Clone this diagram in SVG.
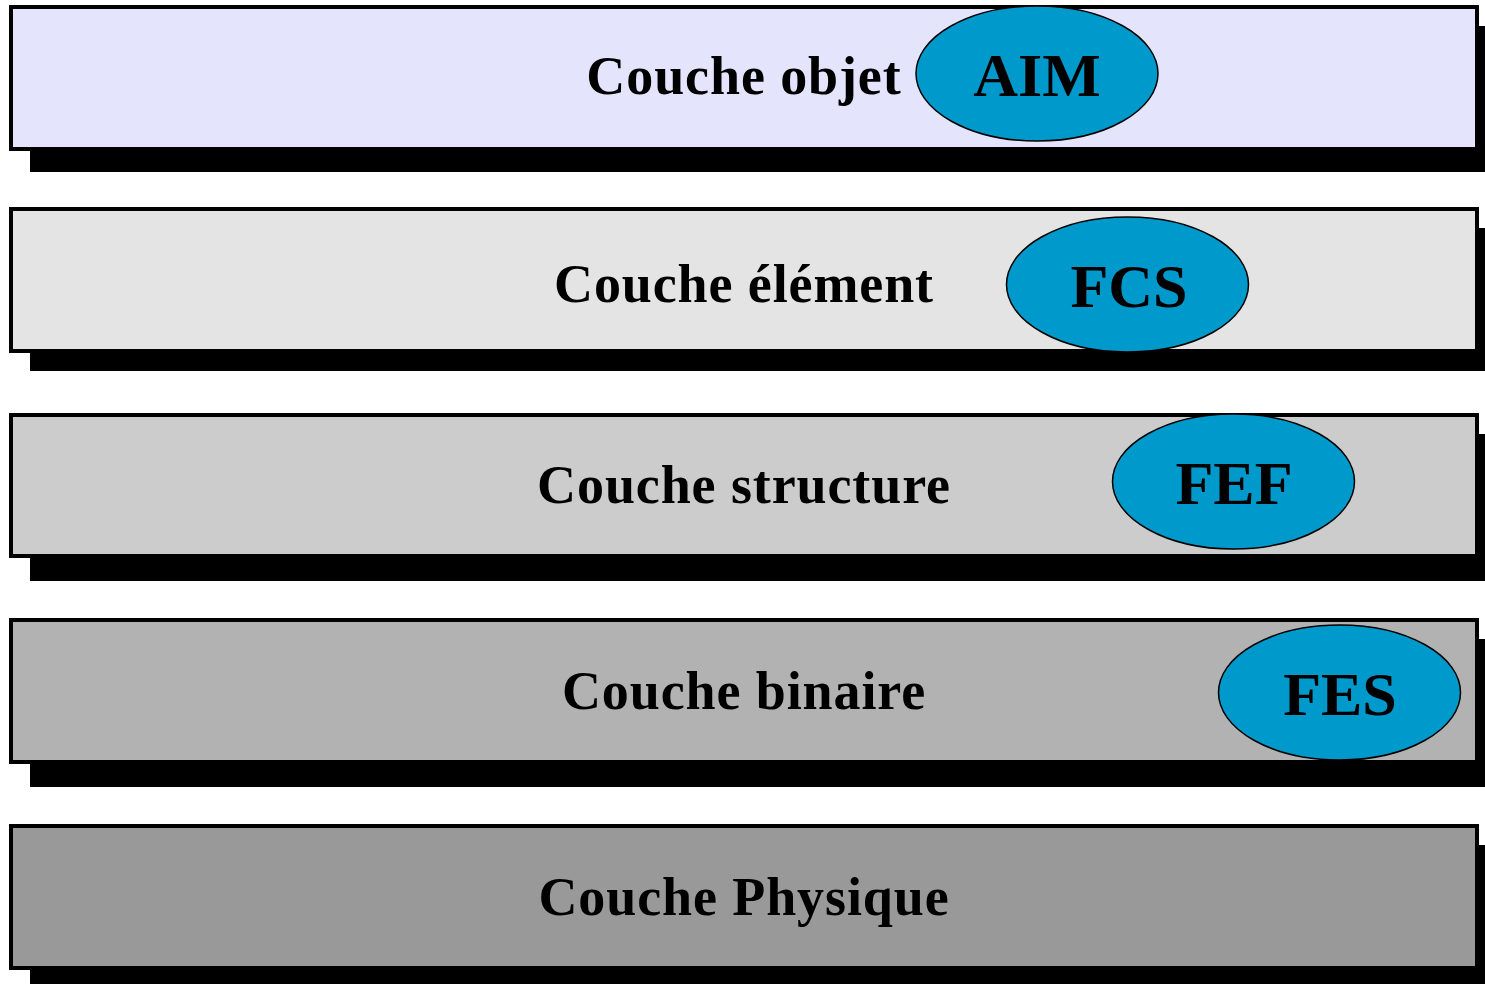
<svg xmlns="http://www.w3.org/2000/svg" width="1485" height="984" viewBox="0 0 1485 984">
<style>
.shadow{fill:#000}
.layer{stroke:#000;stroke-width:4}
.lbl{font-family:"Liberation Serif","Times New Roman",serif;font-weight:bold;font-size:54px;letter-spacing:0.9px;text-anchor:middle;fill:#000}
.ell{fill:#0099CC;stroke:#000;stroke-width:1.5}
.etx{font-family:"Liberation Serif","Times New Roman",serif;font-weight:bold;font-size:62px;text-anchor:middle;fill:#000}
</style>
<rect width="1485" height="984" fill="#fff"/>
<g id="layer-objet">
<rect class="shadow" x="30" y="26" width="1470" height="146"/>
<rect class="layer" x="11" y="7" width="1466" height="142" fill="#E4E4FC"/>
<text class="lbl" x="744" y="94">Couche objet</text>
</g>
<g id="layer-element">
<rect class="shadow" x="30" y="228" width="1470" height="143"/>
<rect class="layer" x="11" y="209" width="1466" height="142" fill="#E4E4E4"/>
<text class="lbl" x="744" y="302">Couche élément</text>
</g>
<g id="layer-structure">
<rect class="shadow" x="30" y="434" width="1470" height="147"/>
<rect class="layer" x="11" y="415" width="1466" height="141" fill="#CCCCCC"/>
<text class="lbl" x="744" y="503">Couche structure</text>
</g>
<g id="layer-binaire">
<rect class="shadow" x="30" y="639" width="1470" height="148"/>
<rect class="layer" x="11" y="620" width="1466" height="142" fill="#B2B2B2"/>
<text class="lbl" x="744" y="709">Couche binaire</text>
</g>
<g id="layer-physique">
<rect class="shadow" x="30" y="845" width="1470" height="139"/>
<rect class="layer" x="11" y="826" width="1466" height="142" fill="#999999"/>
<text class="lbl" x="744" y="915">Couche Physique</text>
</g>
<g id="node-AIM">
<ellipse class="ell" cx="1037" cy="73.5" rx="121" ry="67.5"/>
<text class="etx" x="1037" y="96">AIM</text>
</g>
<g id="node-FCS">
<ellipse class="ell" cx="1127.5" cy="284.5" rx="121" ry="67.5"/>
<text class="etx" x="1129" y="307">FCS</text>
</g>
<g id="node-FEF">
<ellipse class="ell" cx="1233.5" cy="481.5" rx="121" ry="67.5"/>
<text class="etx" x="1234" y="504">FEF</text>
</g>
<g id="node-FES">
<ellipse class="ell" cx="1339.5" cy="692.5" rx="121" ry="67.5"/>
<text class="etx" x="1340" y="715">FES</text>
</g>
<g id="connectors"/>
</svg>
